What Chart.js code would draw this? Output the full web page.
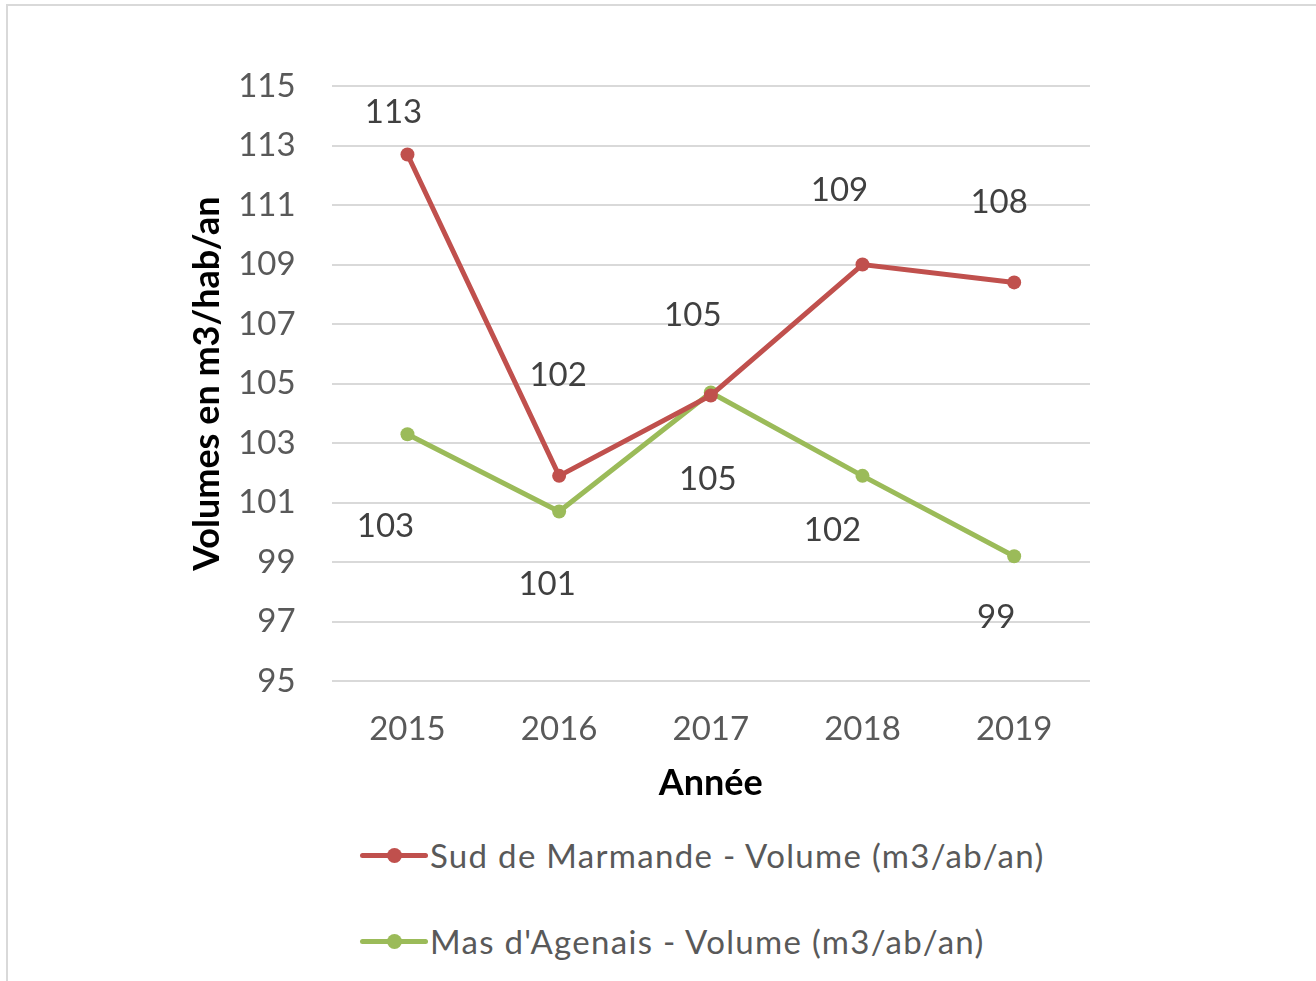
<!DOCTYPE html>
<html lang="fr">
<head>
    <meta charset="UTF-8">
    <title>Volumes en m3/hab/an</title>
    <script src="https://cdn.jsdelivr.net/npm/chart.js"></script>
    <style>
        html, body { margin: 0; padding: 0; background: #fff; overflow: hidden; }
        #cadre { position: absolute; left: 6px; top: 4px; width: 1400px; height: 1100px; border: 2px solid #d9d9d9; }
        #zone { position: absolute; left: 0; top: 0; width: 1316px; height: 820px; }
        #legende { position: absolute; left: 360px; top: 826px; font-family: Lato, sans-serif; font-size: 33px; letter-spacing: 1.3px; color: #595959; }
        .item { display: flex; align-items: center; height: 58px; margin-bottom: 28px; }
        .trait { position: relative; width: 68px; height: 5px; border-radius: 3px; margin-right: 2px; }
        .trait span { position: absolute; left: 27px; top: -5px; width: 15px; height: 15px; border-radius: 50%; }
    </style>
</head>
<body>
    <div id="cadre"></div>
    <div id="zone"><canvas id="volumeChart"></canvas></div>
    <div id="legende"></div>
    <script>
        // Données
        const annees = ['2015', '2016', '2017', '2018', '2019'];
        const sudMarmande = [112.7, 101.9, 104.6, 109.0, 108.4];
        const masAgenais = [103.3, 100.7, 104.7, 101.9, 99.2];

        const rouge = '#c0504d';
        const vert = '#9bbb59';

        // Décalage des étiquettes (position Excel, en pixels)
        const decalRouge = [[-14, -42], [-1, -100], [-18, -80], [-23, -74], [-15, -80]];
        const decalVert = [[-22, 92], [-12, 73], [-3, 87], [-30, 55], [-18, 61]];

        const etiquettes = {
            id: 'etiquettes',
            afterDatasetsDraw(chart) {
                const ctx = chart.ctx;
                ctx.save();
                ctx.font = '33px Lato';
                ctx.fillStyle = '#404040';
                ctx.textAlign = 'center';
                ctx.textBaseline = 'middle';
                chart.data.datasets.forEach((ds, i) => {
                    const meta = chart.getDatasetMeta(i);
                    meta.data.forEach((pt, j) => {
                        const d = ds.decalages[j];
                        ctx.fillText(Math.round(ds.data[j]), pt.x + d[0], pt.y + d[1]);
                    });
                });
                ctx.restore();
            }
        };

        const ctx = document.getElementById('volumeChart').getContext('2d');
        const volumeChart = new Chart(ctx, {
            type: 'line',
            data: {
                labels: annees,
                datasets: [{
                    label: 'Sud de Marmande - Volume (m3/ab/an)',
                    data: sudMarmande,
                    borderColor: rouge,
                    backgroundColor: rouge,
                    borderWidth: 5,
                    pointRadius: 7,
                    pointBorderWidth: 0,
                    tension: 0,
                    decalages: decalRouge
                }, {
                    label: "Mas d'Agenais - Volume (m3/ab/an)",
                    data: masAgenais,
                    borderColor: vert,
                    backgroundColor: vert,
                    borderWidth: 5,
                    pointRadius: 7,
                    pointBorderWidth: 0,
                    tension: 0,
                    decalages: decalVert
                }]
            },
            options: {
                responsive: true,
                maintainAspectRatio: false,
                animation: false,
                layout: { padding: { left: 186, right: 226, top: 86, bottom: 18 } },
                plugins: {
                    legend: { display: false },
                    tooltip: { enabled: false }
                },
                scales: {
                    x: {
                        offset: true,
                        grid: { display: false },
                        border: { display: false },
                        ticks: { color: '#595959', font: { family: 'Lato', size: 33 }, padding: 20 },
                        title: {
                            display: true,
                            text: 'Année',
                            color: '#000',
                            font: { family: 'Lato', size: 36, weight: 'bold' },
                            padding: { top: -7, bottom: -3 }
                        }
                    },
                    y: {
                        min: 95,
                        max: 115,
                        grid: { color: '#d9d9d9', lineWidth: 2, drawTicks: false },
                        border: { display: false },
                        ticks: { stepSize: 2, color: '#595959', font: { family: 'Lato', size: 33 }, padding: 36 },
                        title: {
                            display: true,
                            text: 'Volumes en m3/hab/an',
                            color: '#000',
                            font: { family: 'Lato', size: 36, weight: 'bold' },
                            padding: { top: 0, bottom: -27 }
                        }
                    }
                }
            },
            plugins: [etiquettes]
        });

        // Légende verticale comme dans l'original
        const legende = document.getElementById('legende');
        volumeChart.data.datasets.forEach(ds => {
            const item = document.createElement('div');
            item.className = 'item';
            item.innerHTML = '<div class="trait" style="background:' + ds.borderColor + '"><span style="background:' + ds.borderColor + '"></span></div>' + ds.label;
            legende.appendChild(item);
        });
    </script>
</body>
</html>
